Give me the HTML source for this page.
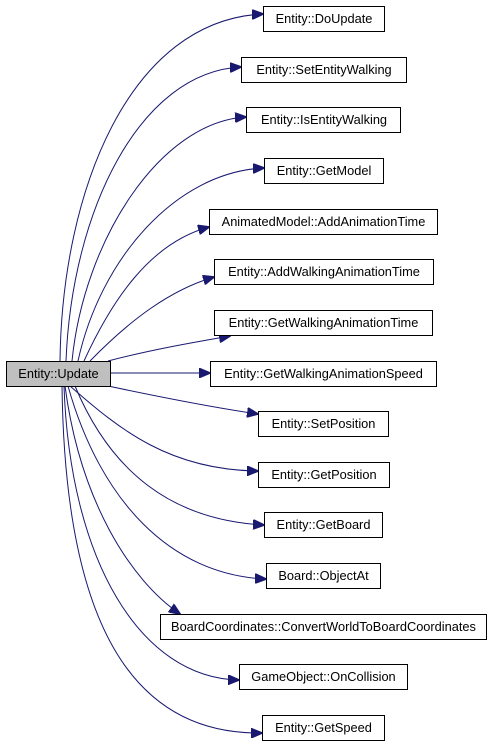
<!DOCTYPE html>
<html><head><meta charset="utf-8"><style>
html,body{margin:0;padding:0;background:#fff;}
svg{display:block;}
text{font-family:"Liberation Sans",Arial,sans-serif;font-size:12.8px;fill:#000;}
</style></head><body>
<svg width="493" height="747" viewBox="0 0 493 747" xmlns="http://www.w3.org/2000/svg">
<defs>
<marker id="a" markerWidth="12" markerHeight="10" refX="11" refY="5" orient="auto" markerUnits="userSpaceOnUse">
<path d="M0,0 L12,5 L0,10 Z" fill="#191970" stroke="#191970"/>
</marker>
</defs>
<g fill="none" stroke="#191970" stroke-width="1" marker-end="url(#a)">
<path d="M60,361 C62,190 130,20 263,14"/>
<path d="M66,361 C72,210 140,72 241,67"/>
<path d="M72,361 C84,240 160,122 246,117"/>
<path d="M78,361 C100,260 175,172 264,168"/>
<path d="M84,361 C112,300 150,243 209,227"/>
<path d="M90,361 C130,320 170,290 214,277"/>
<path d="M108,361 C150,350 190,343 230,336"/>
<path d="M111,373 L210,373"/>
<path d="M108,386 C160,397 210,407 258,414"/>
<path d="M70,386 C120,430 170,470 258,471"/>
<path d="M75,386 C110,470 170,520 264,525"/>
<path d="M68,386 C100,500 170,575 266,579"/>
<path d="M65,386 C80,500 130,580 180,614"/>
<path d="M64,386 C70,560 140,678 239,680"/>
<path d="M62,386 C65,620 130,735 262,733"/>
</g>
<g stroke="#000" stroke-width="1" fill="#fff">
<rect x="263.5" y="6.5" width="121" height="25"/>
<rect x="241.5" y="57.5" width="165" height="25"/>
<rect x="246.5" y="107.5" width="154" height="25"/>
<rect x="264.5" y="158.5" width="119" height="25"/>
<rect x="209.5" y="209.5" width="228" height="25"/>
<rect x="214.5" y="259.5" width="219" height="25"/>
<rect x="214.5" y="310.5" width="218" height="25"/>
<rect x="210.5" y="361.5" width="226" height="25"/>
<rect x="258.5" y="411.5" width="130" height="25"/>
<rect x="258.5" y="462.5" width="131" height="25"/>
<rect x="264.5" y="512.5" width="118" height="25"/>
<rect x="266.5" y="563.5" width="114" height="25"/>
<rect x="160.5" y="614.5" width="326" height="25"/>
<rect x="239.5" y="664.5" width="168" height="25"/>
<rect x="262.5" y="715.5" width="122" height="25"/>
<rect x="6.5" y="361.5" width="104" height="25" fill="#bfbfbf"/>
</g>
<g text-anchor="middle">
<text x="324" y="23">Entity::DoUpdate</text>
<text x="324" y="74">Entity::SetEntityWalking</text>
<text x="324" y="124">Entity::IsEntityWalking</text>
<text x="324" y="175">Entity::GetModel</text>
<text x="323.5" y="226">AnimatedModel::AddAnimationTime</text>
<text x="324" y="276">Entity::AddWalkingAnimationTime</text>
<text x="323.5" y="327">Entity::GetWalkingAnimationTime</text>
<text x="323.5" y="378">Entity::GetWalkingAnimationSpeed</text>
<text x="323.5" y="428">Entity::SetPosition</text>
<text x="324" y="479">Entity::GetPosition</text>
<text x="323.5" y="529">Entity::GetBoard</text>
<text x="323.5" y="580">Board::ObjectAt</text>
<text x="323.5" y="631">BoardCoordinates::ConvertWorldToBoardCoordinates</text>
<text x="323.5" y="681">GameObject::OnCollision</text>
<text x="323.5" y="732">Entity::GetSpeed</text>
<text x="58.5" y="378">Entity::Update</text>
</g>
</svg>
</body></html>
